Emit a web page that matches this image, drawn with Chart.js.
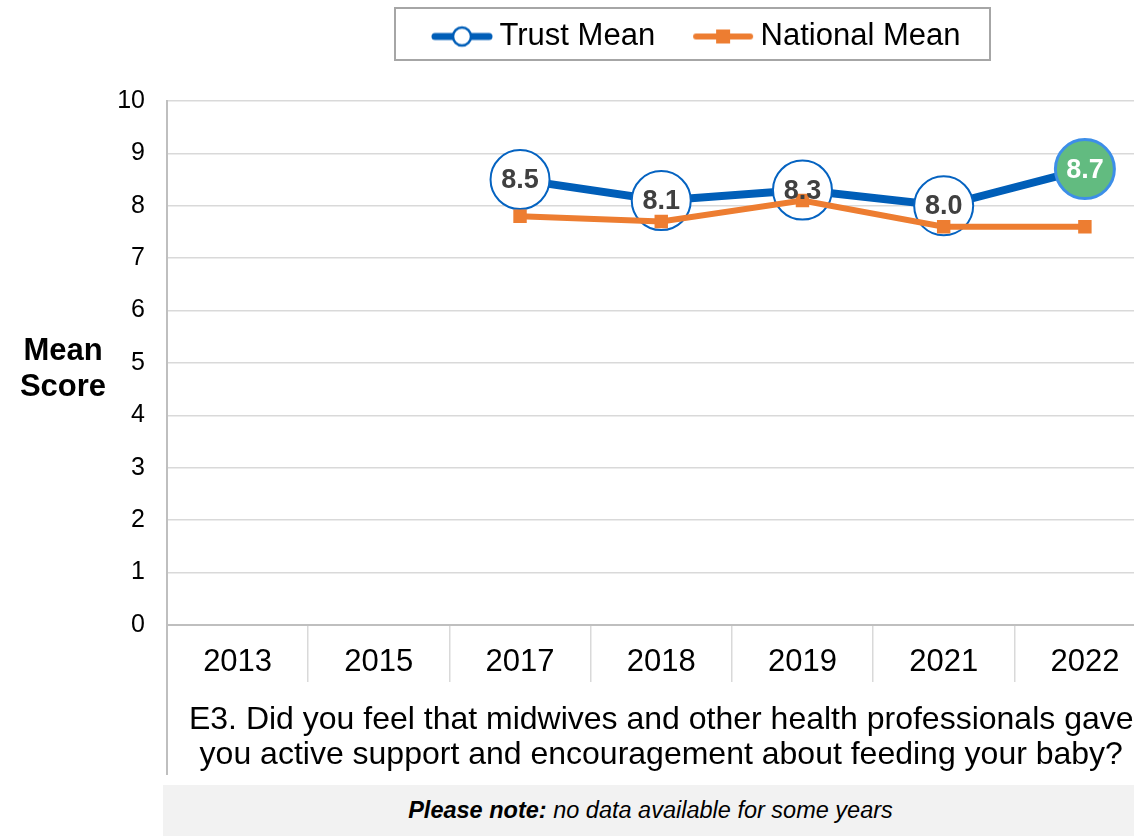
<!DOCTYPE html>
<html>
<head>
<meta charset="utf-8">
<script src="https://cdn.jsdelivr.net/npm/chart.js@4/dist/chart.umd.min.js"></script>
<style>
html, body { margin: 0; padding: 0; overflow: hidden; background: #fff; }
body { width: 1134px; height: 836px; position: relative; font-family: Arial, "Liberation Sans", sans-serif; }
#wrap { position: absolute; left: 0; top: 0; width: 1188px; height: 776px; }
#note {
    position: absolute; left: 163px; top: 785px; width: 975px; height: 51px;
    background: #f2f2f2; font-size: 23.5px; font-style: italic; text-align: center;
    line-height: 51px; color: #000;
}
</style>
</head>
<body>
<div id="wrap"><canvas id="myChart" width="1188" height="776"></canvas></div>
<div id="note"><b>Please note:</b> no data available for some years</div>
<script>
// chart values
const years = ['2013', '2015', '2017', '2018', '2019', '2021', '2022']
const trustMean = [null, null, 8.5, 8.1, 8.3, 8.0, 8.7]
const nationalMean = [null, null, 7.8, 7.7, 8.1, 7.6, 7.6]
const yMin = 0
const yMax = 10
const yStep = 1
const seriesNames = ['Trust Mean', 'National Mean']
const yTitle = ['Mean', 'Score']
const question = [
    'E3. Did you feel that midwives and other health professionals gave',
    'you active support and encouragement about feeding your baby?'
]

const FONT = "Arial, 'Liberation Sans', sans-serif"
Chart.defaults.font.family = FONT
Chart.defaults.color = '#000'

const blue = '#005EB8'
const orange = '#ED7D31'

// last trust point is highlighted green
const trustBg = trustMean.map((v, i) => i === trustMean.length - 1 ? '#62BB80' : '#ffffff')
const trustBorder = trustMean.map((v, i) => i === trustMean.length - 1 ? '#3D8EE8' : '#0563C1')
const trustBorderW = trustMean.map((v, i) => i === trustMean.length - 1 ? 3 : 2)
const labelColors = trustMean.map((v, i) => i === trustMean.length - 1 ? '#ffffff' : '#404040')

function legendIcon(color, kind) {
    const c = document.createElement('canvas')
    c.width = 62
    c.height = 24
    const g = c.getContext('2d')
    g.strokeStyle = color
    g.lineCap = 'round'
    g.lineWidth = kind === 'circle' ? 7 : 6
    g.beginPath()
    g.moveTo(4, 12)
    g.lineTo(58, 12)
    g.stroke()
    if (kind === 'circle') {
        g.fillStyle = '#fff'
        g.lineWidth = 2.5
        g.beginPath()
        g.arc(31, 12, 9, 0, Math.PI * 2)
        g.fill()
        g.stroke()
    } else {
        g.fillStyle = color
        g.fillRect(24, 5, 14, 14)
    }
    return c
}
const icons = [legendIcon(blue, 'circle'), legendIcon(orange, 'rect')]

// shift legend to its spot and draw the box round it
const legendBox = {
    id: 'legendBox',
    beforeDraw(chart) {
        const lg = chart.legend
        lg.left = 394
        lg.right = 1400
    },
    afterDraw(chart) {
        const ctx = chart.ctx
        ctx.save()
        ctx.strokeStyle = '#a6a6a6'
        ctx.lineWidth = 2
        ctx.strokeRect(395, 8, 595, 52)
        ctx.restore()
    }
}

// value labels inside the trust circles
const valueLabels = {
    id: 'valueLabels',
    afterDatasetsDraw(chart) {
        const ctx = chart.ctx
        const meta = chart.getDatasetMeta(0)
        ctx.save()
        ctx.font = 'bold 27px ' + FONT
        ctx.textAlign = 'center'
        ctx.textBaseline = 'middle'
        meta.data.forEach((pt, i) => {
            const v = trustMean[i]
            if (v === null) return
            ctx.fillStyle = labelColors[i]
            ctx.fillText(v.toFixed(1), pt.x, pt.y + 1)
        })
        ctx.restore()
    }
}

// y title (horizontal) and the axis line running down through the category area
const axisExtras = {
    id: 'axisExtras',
    afterDraw(chart) {
        const ctx = chart.ctx
        const a = chart.chartArea
        const xs = chart.scales.x
        ctx.save()
        ctx.strokeStyle = '#bfbfbf'
        ctx.lineWidth = 2
        ctx.beginPath()
        ctx.moveTo(a.left, a.bottom)
        ctx.lineTo(a.left, xs.bottom)
        ctx.stroke()
        ctx.fillStyle = '#000'
        ctx.font = 'bold 31px ' + FONT
        ctx.textAlign = 'center'
        ctx.textBaseline = 'middle'
        const cy = (a.top + a.bottom) / 2
        ctx.fillText(yTitle[0], a.left - 104, cy - 12)
        ctx.fillText(yTitle[1], a.left - 104, cy + 24)
        ctx.restore()
    }
}

const ctx = document.getElementById('myChart')

const data = {
    labels: years,
    datasets: [{
        label: seriesNames[0],
        data: trustMean,
        borderColor: blue,
        borderWidth: 8,
        pointRadius: 29.5,
        pointHoverRadius: 29.5,
        pointBackgroundColor: trustBg,
        pointBorderColor: trustBorder,
        pointBorderWidth: trustBorderW,
        tension: 0,
        order: 2
    }, {
        label: seriesNames[1],
        data: nationalMean,
        borderColor: orange,
        backgroundColor: orange,
        borderWidth: 6,
        pointStyle: 'rect',
        pointRadius: 9.5,
        pointHoverRadius: 9.5,
        pointBackgroundColor: orange,
        pointBorderWidth: 0,
        tension: 0,
        order: 1
    }]
}

const config = {
    type: 'line',
    data: data,
    options: {
        responsive: false,
        animation: false,
        layout: { padding: { top: -25, right: 4, bottom: 1, left: 0 } },
        plugins: {
            tooltip: { enabled: false },
            // empty title used as a spacer under the legend
            title: {
                display: true,
                text: '',
                font: { size: 10 },
                padding: { top: 0, bottom: 27 }
            },
            legend: {
                position: 'top',
                align: 'start',
                weight: 3000,
                labels: {
                    usePointStyle: true,
                    pointStyleWidth: 44,
                    padding: 46,
                    color: '#000',
                    font: { size: 31 },
                    generateLabels: () => seriesNames.map((name, i) => ({
                        text: name,
                        pointStyle: icons[i],
                        fillStyle: 'transparent',
                        strokeStyle: 'transparent',
                        lineWidth: 0,
                        hidden: false,
                        datasetIndex: i
                    }))
                }
            }
        },
        scales: {
            x: {
                offset: true,
                grid: {
                    offset: true,
                    drawOnChartArea: false,
                    tickLength: 57,
                    color: '#d9d9d9',
                    lineWidth: 1.5
                },
                border: { color: '#bfbfbf', width: 2 },
                ticks: {
                    font: { size: 31 },
                    color: '#000',
                    padding: -38,
                    maxRotation: 0,
                    autoSkip: false
                },
                title: {
                    display: true,
                    text: question,
                    font: { size: 32, lineHeight: 1.1 },
                    color: '#000',
                    padding: { top: 0, bottom: 2 }
                },
                afterFit: s => { s.height = 150 }
            },
            y: {
                min: yMin,
                max: yMax,
                ticks: {
                    stepSize: yStep,
                    font: { size: 25 },
                    color: '#000',
                    padding: 22
                },
                grid: { color: '#d9d9d9', lineWidth: 1.5, drawTicks: false },
                border: { color: '#bfbfbf', width: 2 },
                afterFit: s => { s.width = 167 }
            }
        }
    },
    plugins: [legendBox, valueLabels, axisExtras]
}

const myChart = new Chart(ctx, config)
</script>
</body>
</html>
